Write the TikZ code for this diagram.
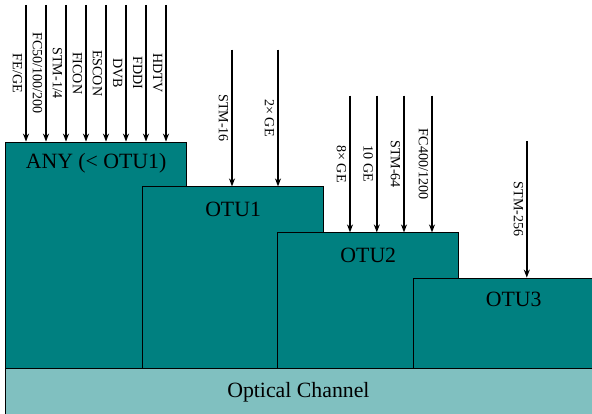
\documentclass[tikz,border=0pt]{standalone}
\usepackage{fontspec}
\setmainfont{Liberation Serif}
\usetikzlibrary{arrows.meta, positioning}
\definecolor{tealdark}{RGB}{0,128,128}
\definecolor{teallight}{RGB}{128,192,192}

\begin{document}
\begin{tikzpicture}[>={Stealth[length=2mm, width=1.5mm]},
  box/.style={draw=black, line width=0.7pt, fill=tealdark, anchor=south west,
    inner sep=0pt, minimum width=4.53cm},
  boxlabel/.style={anchor=base, font=\fontsize{15.5}{18}\selectfont},
  sig/.style={->, line width=1.3pt},
  siglabel/.style={midway, rotate=-90, anchor=north, inner sep=2pt,
    font=\fontsize{10}{12}\selectfont}]
  \clip (0,0) rectangle (14.8,10.325);
  % canal optico
  \node[box, fill=teallight, minimum width=15cm, minimum height=1.2cm] (och) at (0.125,-0.11) {};
  \node[boxlabel] (ochlabel) at (7.46,0.4) {Optical Channel};
  % contenedores
  \node[box, minimum height=5.67cm] (any) at (0.125,1.09) {};
  \node[boxlabel] (anylabel) at ([yshift=-0.68cm] any.north) {ANY (< OTU1)};
  \node[box, minimum height=4.55cm] (otu1) at (3.55,1.09) {};
  \node[boxlabel] (otu1label) at ([yshift=-0.75cm] otu1.north) {OTU1};
  \node[box, minimum height=3.4cm] (otu2) at (6.93,1.09) {};
  \node[boxlabel] (otu2label) at ([yshift=-0.75cm] otu2.north) {OTU2};
  \node[box, minimum width=5cm, minimum height=2.27cm] (otu3) at (10.33,1.09) {};
  \node[boxlabel] (otu3label) at ([yshift=-0.72cm] otu3.north) {OTU3};
  % clientes
  \foreach \dx/\txt [count=\i] in {0.525/{FE/GE}, 1.025/{FC50/100/200}, 1.525/{STM-1/4},
      2.025/FICON, 2.525/ESCON, 3.025/DVB, 3.525/FDDI, 4.025/HDTV} {
    \coordinate (anyin\i) at ([shift={(\dx,3.42)}] any.north west);
    \draw[sig] (anyin\i) -- (anyin\i |- any.north) node[siglabel] {\txt};
  }
  \foreach \dx/\txt [count=\i] in {2.25/STM-16, 3.4/{2× GE}} {
    \coordinate (otu1in\i) at ([shift={(\dx,3.42)}] otu1.north west);
    \draw[sig] (otu1in\i) -- (otu1in\i |- otu1.north) node[siglabel] {\txt};
  }
  \foreach \dx/\txt [count=\i] in {1.82/{8× GE}, 2.49/{10 GE}, 3.17/STM-64, 3.87/{FC400/1200}} {
    \coordinate (otu2in\i) at ([shift={(\dx,3.42)}] otu2.north west);
    \draw[sig] (otu2in\i) -- (otu2in\i |- otu2.north) node[siglabel] {\txt};
  }
  \coordinate (otu3in1) at ([shift={(2.84,3.42)}] otu3.north west);
  \draw[sig] (otu3in1) -- (otu3in1 |- otu3.north) node[siglabel] {STM-256};
\end{tikzpicture}
\end{document}
